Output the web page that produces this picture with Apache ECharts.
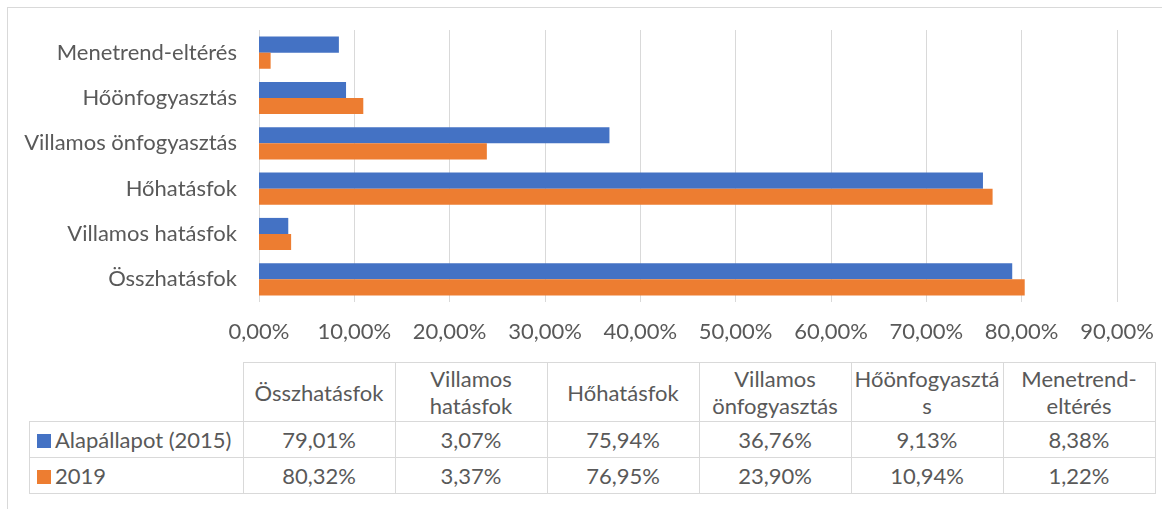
<!DOCTYPE html>
<html>
<head>
<meta charset="utf-8">
<script src="https://cdn.jsdelivr.net/npm/echarts@6/dist/echarts.min.js"></script>
<style>
  html, body { margin: 0; padding: 0; background: #fff; }
  #wrap { position: relative; width: 1162px; height: 509px; overflow: hidden; }
  #frame { position: absolute; left: 7px; top: 7px; width: 1200px; height: 560px; border: 1px solid #d9d9d9; }
  #chart { position: absolute; left: 0; top: 0; width: 1162px; height: 350px; }
  #tbl { position: absolute; left: 29px; top: 362px; border-collapse: collapse;
         font-family: Lato, "Open Sans", sans-serif; font-size: 22px; color: #595959; }
  #tbl td { border: 1px solid #d9d9d9; text-align: center; padding: 0; }
  #tbl td.lbl { text-align: left; padding-left: 7px; white-space: nowrap; }
  #tbl td.empty { border-top: none; border-left: none; }
  .key { display: inline-block; width: 14px; height: 14px; margin-right: 4px; vertical-align: 0px; }
</style>
</head>
<body>
<div id="wrap">
  <div id="frame"></div>
  <div id="chart"></div>
  <table id="tbl"></table>
</div>
<script>
// kategóriák (alulról felfelé, ahogy a tengelyen)
const categories = ["Összhatásfok", "Villamos hatásfok", "Hőhatásfok", "Villamos önfogyasztás", "Hőönfogyasztás", "Menetrend-eltérés"]
// táblázat fejléc sortöréssel
const headerLabels = ["Összhatásfok", "Villamos\nhatásfok", "Hőhatásfok", "Villamos\nönfogyasztás", "Hőönfogyaszt\u00e1\ns", "Menetrend-\neltérés"]
const seriesNames = ["Alapállapot (2015)", "2019"]
const base2015 = [79.01, 3.07, 75.94, 36.76, 9.13, 8.38]
const year2019 = [80.32, 3.37, 76.95, 23.90, 10.94, 1.22]
const colors = ["#4472C4", "#ED7D31"]

const pct = v => v.toFixed(2).replace(".", ",") + "%"

let myChart = echarts.init(document.getElementById("chart"))
myChart.setOption({
  animation: false,
  textStyle: { fontFamily: "Lato, 'Open Sans', sans-serif" },
  grid: { left: 259, right: 45, top: 30, height: 272, containLabel: false },
  xAxis: {
    type: "value",
    min: 0,
    max: 90,
    interval: 10,
    axisLine: { show: false },
    axisTick: { show: false },
    splitLine: { lineStyle: { color: "#d9d9d9", width: 1 } },
    axisLabel: { color: "#595959", fontSize: 22, margin: 19, formatter: v => pct(v) },
  },
  yAxis: {
    type: "category",
    data: categories,
    axisLine: { show: false },
    axisTick: { show: false },
    axisLabel: { color: "#595959", fontSize: 22, margin: 22 },
  },
  series: [
    {
      name: seriesNames[0],
      type: "bar",
      data: base2015,
      itemStyle: { color: colors[0] },
      barGap: "0%",
      barCategoryGap: "29%",
    },
    {
      name: seriesNames[1],
      type: "bar",
      data: year2019,
      itemStyle: { color: colors[1] },
      barGap: "0%",
      barCategoryGap: "29%",
    },
  ],
})

// adattábla
let tbl = document.getElementById("tbl")
let html = "<tr style='height:59px'><td class='empty' style='width:213px'></td>"
headerLabels.forEach(h => {
  html += "<td style='width:151px;line-height:27px'>" + h.replace("\n", "<br>") + "</td>"
})
html += "</tr>"
;[base2015, year2019].forEach((vals, i) => {
  html += "<tr style='height:36px'><td class='lbl'><span class='key' style='background:" + colors[i] + "'></span>" + seriesNames[i] + "</td>"
  vals.forEach(v => { html += "<td>" + pct(v) + "</td>" })
  html += "</tr>"
})
tbl.innerHTML = html
</script>
</body>
</html>
